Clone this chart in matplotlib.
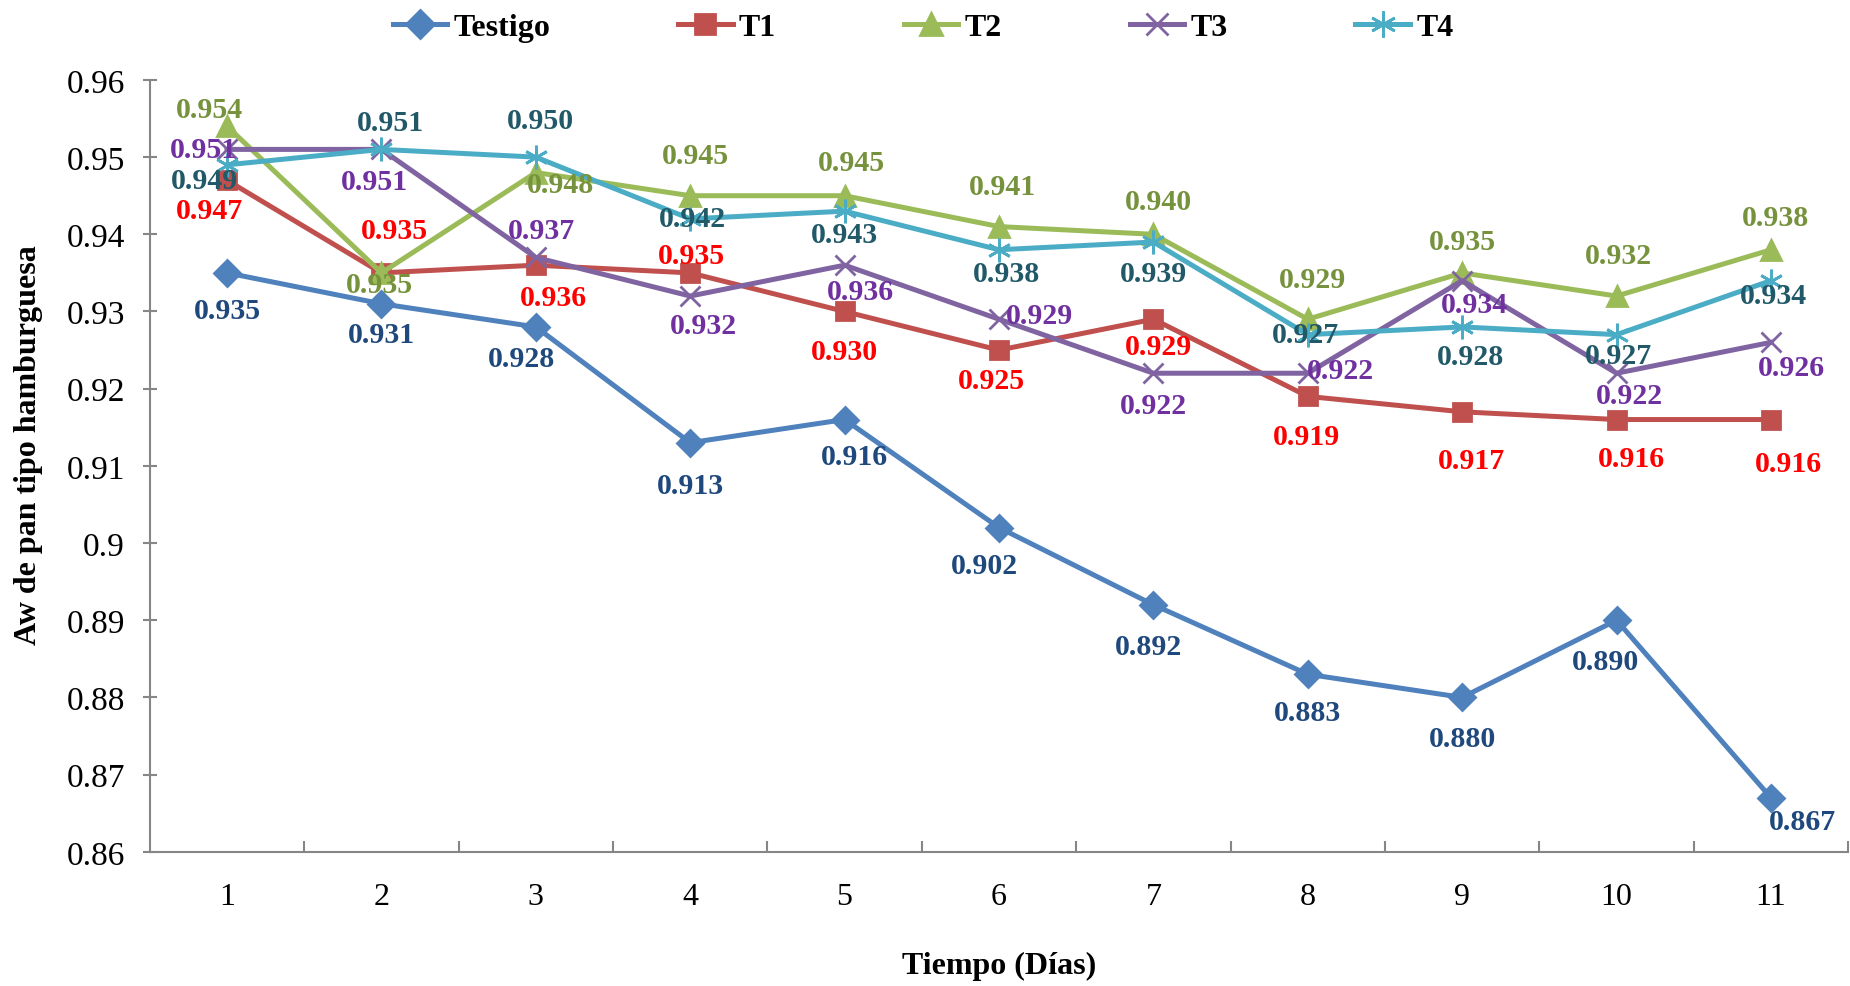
import matplotlib.pyplot as plt

plt.rcParams["font.family"] = ["Liberation Serif", "DejaVu Serif"]

# Data
dias = [1, 2, 3, 4, 5, 6, 7, 8, 9, 10, 11]
series_names = ["Testigo", "T1", "T2", "T3", "T4"]
testigo = [0.935, 0.931, 0.928, 0.913, 0.916, 0.902, 0.892, 0.883, 0.880, 0.890, 0.867]
t1 = [0.947, 0.935, 0.936, 0.935, 0.930, 0.925, 0.929, 0.919, 0.917, 0.916, 0.916]
t2 = [0.954, 0.935, 0.948, 0.945, 0.945, 0.941, 0.940, 0.929, 0.935, 0.932, 0.938]
t3 = [0.951, 0.951, 0.937, 0.932, 0.936, 0.929, 0.922, 0.922, 0.934, 0.922, 0.926]
t4 = [0.949, 0.951, 0.950, 0.942, 0.943, 0.938, 0.939, 0.927, 0.928, 0.927, 0.934]
y_ticks = [0.86, 0.87, 0.88, 0.89, 0.9, 0.91, 0.92, 0.93, 0.94, 0.95, 0.96]
y_tick_labels = ["0.86", "0.87", "0.88", "0.89", "0.9", "0.91", "0.92", "0.93", "0.94", "0.95", "0.96"]

# Styles
line_colors = ["#4F81BD", "#C0504D", "#9BBB59", "#8064A2", "#4BACC6"]
label_colors = ["#1F497D", "#FF0000", "#76923C", "#7030A0", "#215968"]
markers = ["D", "s", "^", "x", (6, 2, 0)]
marker_sizes = [13, 13, 15, 15, 17]

# Label offsets (dx, dy) in pixels of the shrunk reference, dy downward
offsets = [
    [(0, 32), (0, 26), (-12, 27), (0, 36), (8, 31), (-12, 32), (-4, 35), (0, 32), (0, 35), (-9, 35), (27, 20)],
    [(-15, 26), (11, -36), (15, 27), (1, -15), (0, 34), (-6, 26), (4, 23), (-1, 34), (8, 41), (13, 33), (15, 37)],
    [(-15, -14), (-2, 10), (21, 10), (4, -34), (6, -28), (3, -34), (4, -28), (4, -34), (0, -27), (2, -34), (4, -27)],
    [(-20, 0), (-6, 27), (5, -23), (11, 25), (13, 22), (34, -3), (0, 27), (28, -2), (10, 20), (11, 19), (17, 21)],
    [(-19, 13), (8, -23), (4, -31), (2, 0), (0, 20), (6, 20), (0, 27), (-2, 0), (7, 25), (2, 18), (2, 13)],
]
scale = 1850 / 1568

fig = plt.figure(figsize=(18.5, 9.87), dpi=100)
ax = fig.add_axes([0.081, 0.136, 0.918, 0.782])

all_series = [testigo, t1, t2, t3, t4]
for i, values in enumerate(all_series):
    ax.plot(dias, values, color=line_colors[i], linewidth=3.6, marker=markers[i],
            markersize=marker_sizes[i], markeredgewidth=2, label=series_names[i],
            zorder=3 + i * 0.1)
    for x, v, (dx, dy) in zip(dias, values, offsets[i]):
        ax.annotate(f"{v:.3f}", (x, v), xytext=(dx * scale, -dy * scale),
                    textcoords="offset pixels", ha="center", va="center",
                    fontsize=21.5, fontweight="bold", color=label_colors[i], zorder=10)

ax.set_xlim(0.5, 11.5)
ax.set_ylim(0.86, 0.96)
ax.set_yticks(y_ticks)
ax.set_yticklabels(y_tick_labels)
ax.set_xticks(dias)
ax.set_xticks([d + 0.5 for d in dias], minor=True)
ax.tick_params(axis="x", which="major", length=0, pad=22, labelsize=23)
ax.tick_params(axis="x", which="minor", direction="in", length=8, width=1.5, color="#868686")
ax.tick_params(axis="y", direction="inout", length=10, width=1.5, color="#868686",
               labelsize=24, pad=13)

for side in ["top", "right"]:
    ax.spines[side].set_visible(False)
for side in ["left", "bottom"]:
    ax.spines[side].set_color("#868686")
    ax.spines[side].set_linewidth(1.5)

ax.set_xlabel("Tiempo (Días)", fontsize=23, fontweight="bold")
ax.xaxis.set_label_coords(0.5, -0.128)
ax.set_ylabel("Aw de pan tipo hamburguesa", fontsize=23, fontweight="bold")
ax.yaxis.set_label_coords(-0.063, 0.528)

fig.legend(loc="center", bbox_to_anchor=(0.499, 0.971), ncol=5, frameon=False,
           prop={"size": 23, "weight": "bold"}, handlelength=1.7,
           handletextpad=0.2, columnspacing=4.0, markerscale=1.1)

fig.savefig("out.png", dpi=100)
